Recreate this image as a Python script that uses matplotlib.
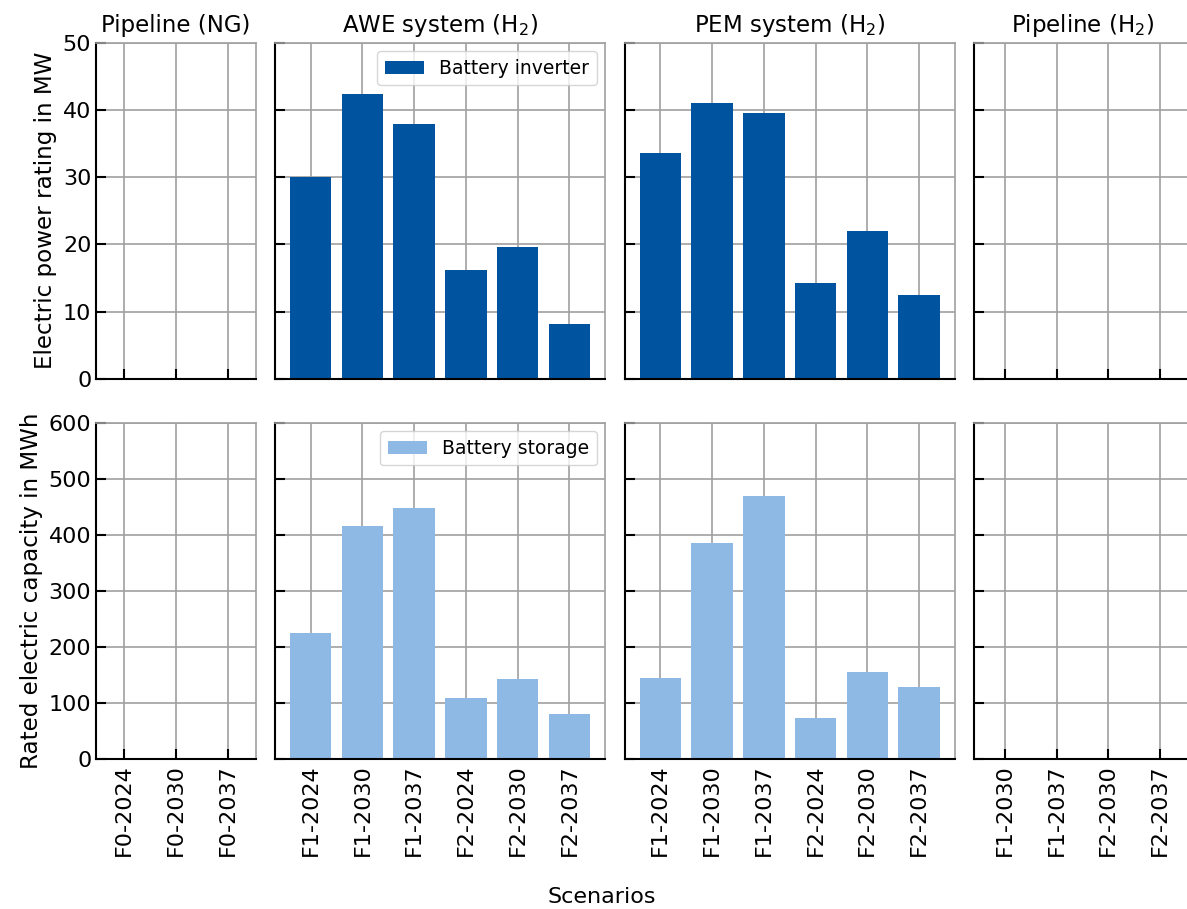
import matplotlib.pyplot as plt
import numpy as np

plt.rcParams["font.family"] = "DejaVu Sans"
plt.rcParams["font.size"] = 16

# Scenario labels per panel
cats_ng = ["F0-2024", "F0-2030", "F0-2037"]
cats_awe = ["F1-2024", "F1-2030", "F1-2037", "F2-2024", "F2-2030", "F2-2037"]
cats_pem = ["F1-2024", "F1-2030", "F1-2037", "F2-2024", "F2-2030", "F2-2037"]
cats_h2 = ["F1-2030", "F1-2037", "F2-2030", "F2-2037"]

titles = ["Pipeline (NG)", "AWE system (H$_2$)", "PEM system (H$_2$)", "Pipeline (H$_2$)"]

# Battery inverter power rating [MW]
inv_ng = [0, 0, 0]
inv_awe = [30.0, 42.4, 37.9, 16.2, 19.6, 8.1]
inv_pem = [33.6, 41.0, 39.6, 14.2, 22.0, 12.4]
inv_h2 = [0, 0, 0, 0]

# Battery storage capacity [MWh]
sto_ng = [0, 0, 0]
sto_awe = [225.5, 416.5, 448.5, 109.5, 143.5, 81.0]
sto_pem = [145.0, 386.0, 470.0, 74.0, 156.0, 129.0]
sto_h2 = [0, 0, 0, 0]

cats = [cats_ng, cats_awe, cats_pem, cats_h2]
inv = [inv_ng, inv_awe, inv_pem, inv_h2]
sto = [sto_ng, sto_awe, sto_pem, sto_h2]

c_inv = "#00549F"
c_sto = "#8EB9E5"

# panel widths follow the number of bars (bar width 0.8 + 5 % margins)
ratios = [1.1 * (len(c) - 0.2) for c in cats]

fig = plt.figure(figsize=(11.87, 9.09), dpi=100)
gs = fig.add_gridspec(
    2, 4, width_ratios=ratios, left=0.081, right=1.003, top=0.953, bottom=0.165,
    wspace=0.075, hspace=0.131,
)

axes = np.empty((2, 4), dtype=object)
for j in range(4):
    for i in range(2):
        sharey = axes[i, 0] if j > 0 else None
        sharex = axes[0, j] if i > 0 else None
        axes[i, j] = fig.add_subplot(gs[i, j], sharey=sharey, sharex=sharex)

for j in range(4):
    x = np.arange(len(cats[j]))
    ax_t, ax_b = axes[0, j], axes[1, j]
    ax_t.bar(x, inv[j], width=0.8, color=c_inv, label="Battery inverter")
    ax_b.bar(x, sto[j], width=0.8, color=c_sto, label="Battery storage")
    ax_t.set_title(titles[j], fontsize=16.5, pad=8)
    ax_b.set_xticks(x)
    ax_b.set_xticklabels(cats[j], rotation=90)
    for ax in (ax_t, ax_b):
        ax.set_axisbelow(True)
        ax.grid(True, color="#a0a0a0", linewidth=1.2)
        ax.tick_params(direction="in", length=7, width=1.5, top=False, right=False)
        for s in ("left", "bottom"):
            ax.spines[s].set_color("black")
            ax.spines[s].set_linewidth(1.5)
        for s in ("top", "right"):
            ax.spines[s].set_color("#a0a0a0")
            ax.spines[s].set_linewidth(1.2)
    plt.setp(ax_t.get_xticklabels(), visible=False)
    if j > 0:
        plt.setp(ax_t.get_yticklabels(), visible=False)
        plt.setp(ax_b.get_yticklabels(), visible=False)

axes[0, 0].set_ylim(0, 50)
axes[0, 0].set_yticks(np.arange(0, 51, 10))
axes[1, 0].set_ylim(0, 600)
axes[1, 0].set_yticks(np.arange(0, 601, 100))
axes[0, 0].set_ylabel("Electric power rating in MW", fontsize=16.6)
axes[1, 0].set_ylabel("Rated electric capacity in MWh", fontsize=16.6)

for ax in (axes[0, 1], axes[1, 1]):
    ax.legend(loc="upper right", fontsize=13.5, fancybox=True, framealpha=0.8,
              handlelength=2.1, borderaxespad=0.45)

fig.text(0.507, 1 - 897 / 909, "Scenarios", ha="center", va="center", fontsize=16)

fig.savefig("out.png", dpi=100)
